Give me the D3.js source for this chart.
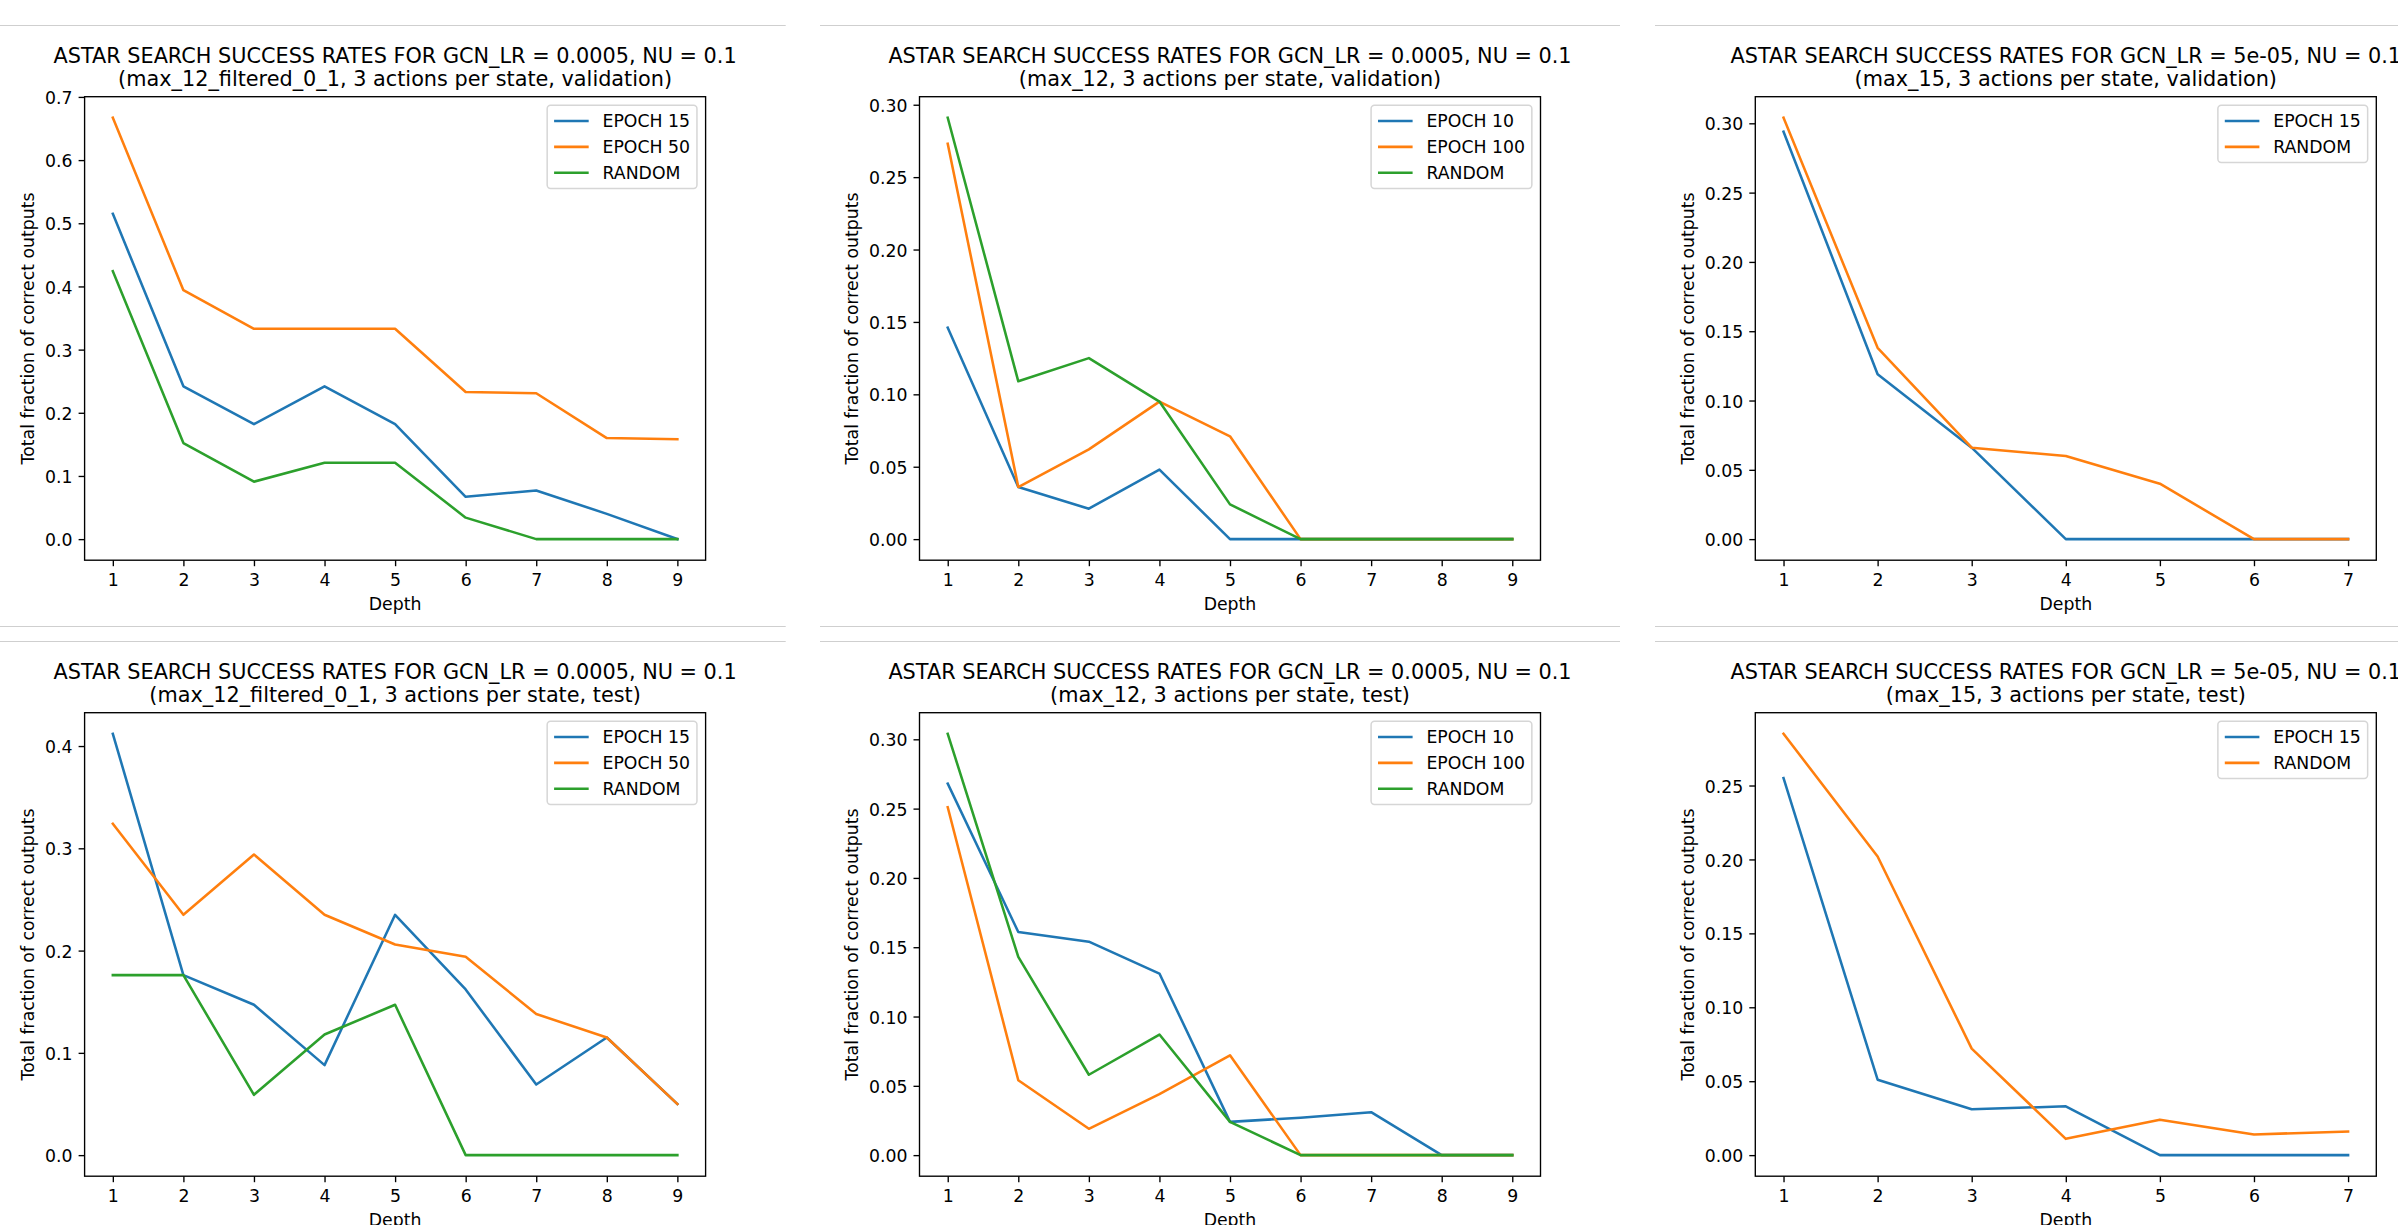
<!DOCTYPE html>
<html>
<head>
<meta charset="utf-8">
<script src="https://cdn.jsdelivr.net/npm/d3@7"></script>
<style>
  body { margin: 0; background: #fff; }
  svg text { font-family: "DejaVu Sans", sans-serif; fill: #000; }
</style>
</head>
<body>
<svg id="chart"></svg>
<script>
// depth values on the x axis
var depths9 = [1, 2, 3, 4, 5, 6, 7, 8, 9];
var depths7 = [1, 2, 3, 4, 5, 6, 7];

// tick labels on the y axis
var ticksTenths = [0, 0.1, 0.2, 0.3, 0.4, 0.5, 0.6, 0.7];
var ticksTenthsShort = [0, 0.1, 0.2, 0.3, 0.4];
var ticksTwentieths = [0, 0.05, 0.10, 0.15, 0.20, 0.25, 0.30];
var ticksTwentiethsShort = [0, 0.05, 0.10, 0.15, 0.20, 0.25];

// max_12_filtered_0_1, validation
var valFilteredEpoch15 = [0.515, 0.242, 0.182, 0.242, 0.182, 0.067, 0.077, 0.040, 0.0];
var valFilteredEpoch50 = [0.667, 0.394, 0.333, 0.333, 0.333, 0.233, 0.231, 0.160, 0.158];
var valFilteredRandom  = [0.424, 0.152, 0.091, 0.121, 0.121, 0.034, 0.0, 0.0, 0.0];

// max_12, validation
var valMax12Epoch10  = [0.146, 0.036, 0.021, 0.048, 0.0, 0.0, 0.0, 0.0, 0.0];
var valMax12Epoch100 = [0.273, 0.036, 0.062, 0.095, 0.071, 0.0, 0.0, 0.0, 0.0];
var valMax12Random   = [0.291, 0.109, 0.125, 0.095, 0.024, 0.0, 0.0, 0.0, 0.0];

// max_15, validation
var valMax15Epoch15 = [0.294, 0.119, 0.066, 0.0, 0.0, 0.0, 0.0];
var valMax15Random  = [0.304, 0.138, 0.066, 0.060, 0.040, 0.0, 0.0];

// max_12_filtered_0_1, test
var testFilteredEpoch15 = [0.412, 0.176, 0.147, 0.088, 0.235, 0.162, 0.069, 0.115, 0.050];
var testFilteredEpoch50 = [0.324, 0.235, 0.294, 0.235, 0.206, 0.194, 0.138, 0.115, 0.050];
var testFilteredRandom  = [0.176, 0.176, 0.059, 0.118, 0.147, 0.0, 0.0, 0.0, 0.0];

// max_12, test
var testMax12Epoch10  = [0.268, 0.161, 0.154, 0.131, 0.024, 0.027, 0.031, 0.0, 0.0];
var testMax12Epoch100 = [0.251, 0.054, 0.019, 0.044, 0.072, 0.0, 0.0, 0.0, 0.0];
var testMax12Random   = [0.304, 0.143, 0.058, 0.087, 0.024, 0.0, 0.0, 0.0, 0.0];

// max_15, test
var testMax15Epoch15 = [0.255, 0.051, 0.031, 0.033, 0.0, 0.0, 0.0];
var testMax15Random  = [0.285, 0.202, 0.072, 0.011, 0.024, 0.014, 0.016];

var titleLr0005 = 'ASTAR SEARCH SUCCESS RATES FOR GCN_LR = 0.0005, NU = 0.1';
var titleLr5e05 = 'ASTAR SEARCH SUCCESS RATES FOR GCN_LR = 5e-05, NU = 0.1';

var panels = [
  { title: titleLr0005, sub: '(max_12_filtered_0_1, 3 actions per state, validation)', depths: depths9,
    yTicks: ticksTenths, fmt: '.1f',
    series: [['EPOCH 15', valFilteredEpoch15], ['EPOCH 50', valFilteredEpoch50], ['RANDOM', valFilteredRandom]] },
  { title: titleLr0005, sub: '(max_12, 3 actions per state, validation)', depths: depths9,
    yTicks: ticksTwentieths, fmt: '.2f',
    series: [['EPOCH 10', valMax12Epoch10], ['EPOCH 100', valMax12Epoch100], ['RANDOM', valMax12Random]] },
  { title: titleLr5e05, sub: '(max_15, 3 actions per state, validation)', depths: depths7,
    yTicks: ticksTwentieths, fmt: '.2f',
    series: [['EPOCH 15', valMax15Epoch15], ['RANDOM', valMax15Random]] },
  { title: titleLr0005, sub: '(max_12_filtered_0_1, 3 actions per state, test)', depths: depths9,
    yTicks: ticksTenthsShort, fmt: '.1f',
    series: [['EPOCH 15', testFilteredEpoch15], ['EPOCH 50', testFilteredEpoch50], ['RANDOM', testFilteredRandom]] },
  { title: titleLr0005, sub: '(max_12, 3 actions per state, test)', depths: depths9,
    yTicks: ticksTwentieths, fmt: '.2f',
    series: [['EPOCH 10', testMax12Epoch10], ['EPOCH 100', testMax12Epoch100], ['RANDOM', testMax12Random]] },
  { title: titleLr5e05, sub: '(max_15, 3 actions per state, test)', depths: depths7,
    yTicks: ticksTwentiethsShort, fmt: '.2f',
    series: [['EPOCH 15', testMax15Epoch15], ['RANDOM', testMax15Random]] }
];

var width = 2398;
var height = 1225;
var colors = ['#1f77b4', '#ff7f0e', '#2ca02c'];

// axes boxes of the six figures
var colLeft = [84.6, 919.5, 1755.3];
var rowTop = [96.7, 712.7];
var axW = 621;
var axH = 463.5;

var fs = 17.3;      // 10pt label font
var titleFs = 20.8; // 12pt title font

var svg = d3.select('#chart')
            .attr('width', width)
            .attr('height', height);

svg.append('rect')
    .attr('width', width)
    .attr('height', height)
    .attr('fill', '#fff');

// thin grey rules above each row of figures
var ruleSegments = [[0, 785.7], [820, 1620], [1655, width]];
var ruleYs = [25.5, 626.5, 641.5];
ruleYs.forEach(function(y) {
  ruleSegments.forEach(function(s) {
    svg.append('line')
        .attr('x1', s[0]).attr('x2', s[1])
        .attr('y1', y).attr('y2', y)
        .attr('stroke', '#cfcfcf')
        .attr('stroke-width', 1.2);
  });
});

panels.forEach(function(p, i) {
  var left = colLeft[i % 3];
  var top = rowTop[Math.floor(i / 3)];
  drawPanel(p, left, top);
});

function drawPanel(p, left, top) {
  var g = svg.append('g');

  var xMin = d3.min(p.depths), xMax = d3.max(p.depths);
  var xPad = (xMax - xMin) * 0.05;
  var xScale = d3.scaleLinear()
                 .domain([xMin - xPad, xMax + xPad])
                 .range([left, left + axW]);

  var allVals = [];
  p.series.forEach(function(s) { allVals = allVals.concat(s[1]); });
  var yExt = d3.extent(allVals);
  var yPad = (yExt[1] - yExt[0]) * 0.05;
  var yScale = d3.scaleLinear()
                 .domain([yExt[0] - yPad, yExt[1] + yPad])
                 .range([top + axH, top]);

  // x axis
  var xAxis = g.append('g')
      .attr('transform', 'translate(0,' + (top + axH) + ')')
      .call(d3.axisBottom(xScale)
              .tickValues(p.depths)
              .tickFormat(d3.format('d'))
              .tickSize(6)
              .tickPadding(6));
  styleAxis(xAxis);
  xAxis.selectAll('text').attr('y', 12.1).attr('dy', '0.81em');

  // y axis
  var yAxis = g.append('g')
      .attr('transform', 'translate(' + left + ',0)')
      .call(d3.axisLeft(yScale)
              .tickValues(p.yTicks)
              .tickFormat(d3.format(p.fmt))
              .tickSize(6)
              .tickPadding(6));
  styleAxis(yAxis);
  yAxis.selectAll('text').attr('x', -12.1).attr('dy', '0.38em');

  // lines
  var line = d3.line()
               .x(function(d) { return xScale(d[0]); })
               .y(function(d) { return yScale(d[1]); });

  p.series.forEach(function(s, k) {
    g.append('path')
        .datum(p.depths.map(function(dep, j) { return [dep, s[1][j]]; }))
        .attr('d', line)
        .attr('fill', 'none')
        .attr('stroke', colors[k])
        .attr('stroke-width', 2.55)
        .attr('stroke-linejoin', 'round')
        .attr('stroke-linecap', 'square');
  });

  // frame
  g.append('rect')
      .attr('x', left)
      .attr('y', top)
      .attr('width', axW)
      .attr('height', axH)
      .attr('fill', 'none')
      .attr('stroke', '#000')
      .attr('stroke-width', 1.36);

  // titles
  g.append('text')
      .text(p.title)
      .attr('x', left + axW / 2)
      .attr('y', top - 33.4)
      .attr('text-anchor', 'middle')
      .style('font-size', titleFs + 'px');

  g.append('text')
      .text(p.sub)
      .attr('x', left + axW / 2)
      .attr('y', top - 11.2)
      .attr('text-anchor', 'middle')
      .style('font-size', titleFs + 'px');

  g.append('text')
      .text('Depth')
      .attr('x', left + axW / 2)
      .attr('y', top + axH + 49.3)
      .attr('text-anchor', 'middle')
      .style('font-size', fs + 'px');

  // y label sits left of the widest tick label
  var labelLeft = d3.min(yAxis.selectAll('text').nodes(), function(n) {
    var b = n.getBBox();
    return left + b.x;
  });
  var yLabelX = labelLeft - 6.8 - 4.0;
  g.append('text')
      .text('Total fraction of correct outputs')
      .attr('transform', 'translate(' + yLabelX + ',' + (top + axH / 2) + ') rotate(-90)')
      .attr('text-anchor', 'middle')
      .style('font-size', fs + 'px');

  drawLegend(g, p, left + axW, top);
}

function styleAxis(a) {
  a.select('.domain').remove();
  a.selectAll('.tick line')
      .attr('stroke', '#000')
      .attr('stroke-width', 1.36);
  a.selectAll('text')
      .attr('fill', '#000')
      .style('font-family', '"DejaVu Sans", sans-serif')
      .style('font-size', fs + 'px');
}

function drawLegend(g, p, right, top) {
  var lg = g.append('g');
  var texts = [];
  p.series.forEach(function(s) {
    texts.push(lg.append('text')
                 .text(s[0])
                 .style('font-size', fs + 'px'));
  });
  var textW = d3.max(texts, function(t) { return t.node().getComputedTextLength(); });

  var boxW = 3.6 * fs + textW;
  var boxH = 0.8 * fs + p.series.length * fs + (p.series.length - 1) * 0.5 * fs;
  var boxX = right - 0.5 * fs - boxW;
  var boxY = top + 0.5 * fs;

  lg.insert('rect', 'text')
      .attr('x', boxX)
      .attr('y', boxY)
      .attr('width', boxW)
      .attr('height', boxH)
      .attr('rx', 3.4)
      .attr('fill', '#fff')
      .attr('fill-opacity', 0.8)
      .attr('stroke', '#d6d6d6')
      .attr('stroke-width', 1.5);

  p.series.forEach(function(s, k) {
    var cy = boxY + 0.4 * fs + 0.5 * fs + k * 1.5 * fs;
    lg.append('line')
        .attr('x1', boxX + 0.4 * fs)
        .attr('x2', boxX + 2.4 * fs)
        .attr('y1', cy)
        .attr('y2', cy)
        .attr('stroke', colors[k])
        .attr('stroke-width', 2.55);
    texts[k]
        .attr('x', boxX + 3.2 * fs)
        .attr('y', cy)
        .attr('dy', '0.38em');
  });
}
</script>
</body>
</html>
